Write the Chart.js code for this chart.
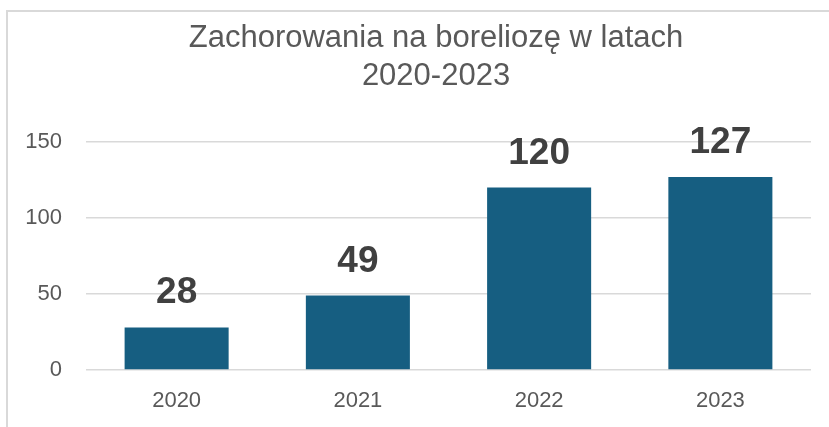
<!DOCTYPE html>
<html>
<head>
<meta charset="utf-8">
<script src="https://cdn.jsdelivr.net/npm/chart.js@4.4.1/dist/chart.umd.min.js"></script>
<style>
  html, body { margin: 0; padding: 0; background: #ffffff; }
  #wrap { position: relative; width: 829px; height: 427px; overflow: hidden; }
  #frame { position: absolute; left: 6px; top: 10px; width: 900px; height: 500px;
           border-top: 2px solid #d9d9d9; border-left: 2px solid #d9d9d9; box-sizing: border-box; }
  canvas { position: absolute; left: 0; top: 0; }
</style>
</head>
<body>
<div id="wrap">
  <div id="frame"></div>
  <canvas id="c" width="829" height="427"></canvas>
</div>
<script>
const titleLines = ["Zachorowania na boreliozę w latach", "2020-2023"];
const categories = ["2020", "2021", "2022", "2023"];
const cases = [28, 49, 120, 127];
const yTicks = [0, 50, 100, 150];

const FONT = "'Liberation Sans', Arial, sans-serif";

const titleDraw = {
  id: 'titleDraw',
  afterDraw(chart) {
    const ctx = chart.ctx;
    ctx.save();
    ctx.font = "31px " + FONT;
    ctx.fillStyle = "#595959";
    ctx.textAlign = "center";
    ctx.textBaseline = "alphabetic";
    ctx.fillText(titleLines[0], 436, 47);
    ctx.fillText(titleLines[1], 436, 84.5);
    ctx.restore();
  }
};

const valueLabels = {
  id: 'valueLabels',
  afterDatasetsDraw(chart) {
    const ctx = chart.ctx;
    const meta = chart.getDatasetMeta(0);
    ctx.save();
    ctx.font = "bold 37px " + FONT;
    ctx.fillStyle = "#404040";
    ctx.textAlign = "center";
    ctx.textBaseline = "alphabetic";
    meta.data.forEach((bar, i) => {
      ctx.fillText(String(cases[i]), bar.x, bar.y - 24);
    });
    ctx.restore();
  }
};

new Chart(document.getElementById('c'), {
  type: 'bar',
  data: {
    labels: categories,
    datasets: [{
      data: cases,
      backgroundColor: '#165E81',
      borderWidth: 0,
      categoryPercentage: 1,
      barPercentage: 0.574
    }]
  },
  options: {
    responsive: false,
    animation: false,
    devicePixelRatio: 1,
    layout: { padding: { left: 26, right: 18, top: 142, bottom: 13 } },
    plugins: {
      legend: { display: false },
      tooltip: { enabled: false },
      title: { display: false }
    },
    scales: {
      x: {
        afterFit(axis) { axis.height = 44; },
        grid: { display: false, drawTicks: false },
        border: { display: false },
        ticks: { color: '#595959', font: { family: FONT, size: 22 }, padding: 18 }
      },
      y: {
        min: 0,
        max: 150,
        afterFit(axis) { axis.width = 60; },
        afterBuildTicks(axis) { axis.ticks = yTicks.map(v => ({ value: v })); },
        grid: { color: '#d9d9d9', lineWidth: 1.5, drawTicks: false },
        border: { display: false },
        ticks: { color: '#595959', font: { family: FONT, size: 22 }, padding: 24 }
      }
    }
  },
  plugins: [valueLabels, titleDraw]
});
</script>
</body>
</html>
